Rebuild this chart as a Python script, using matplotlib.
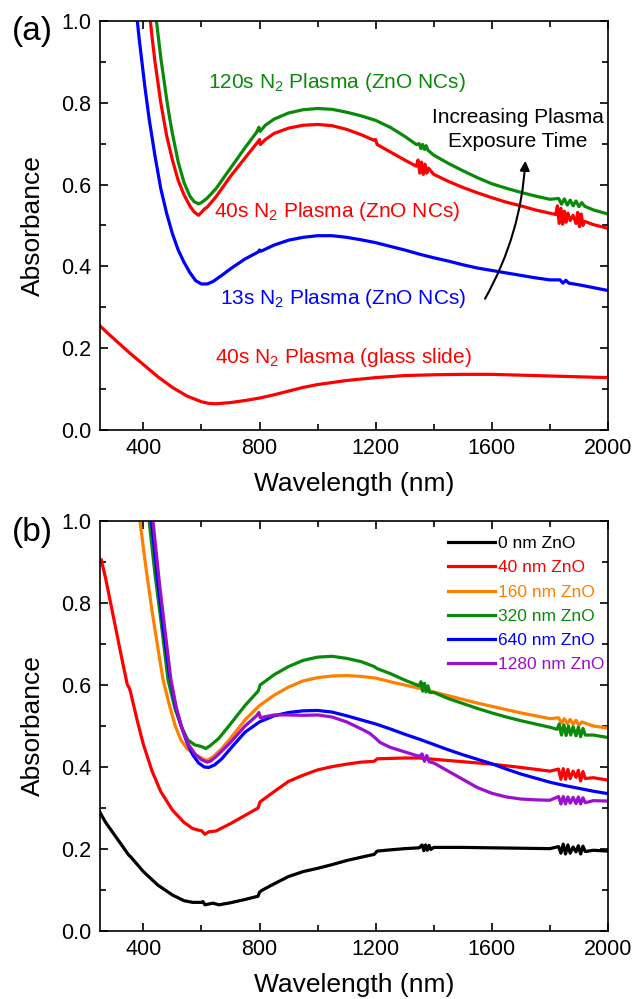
#!/usr/bin/env python3
"""Absorbance spectra of N2 plasma treated ZnO NC films, two panels."""

import matplotlib
matplotlib.use("Agg")
import matplotlib.pyplot as plt
from matplotlib.ticker import MultipleLocator

plt.rcParams["font.family"] = ["Liberation Sans", "DejaVu Sans"]
plt.rcParams["mathtext.fontset"] = "custom"
plt.rcParams["mathtext.rm"] = "Liberation Sans"
plt.rcParams["mathtext.it"] = "Liberation Sans:italic"

# ---- panel (a): plasma exposure time ----
a120_wl = [440, 450, 460, 470, 480, 490, 500, 520, 540, 560, 575, 590, 600, 620, 650,
           700, 750, 790, 798, 802, 820, 850, 900, 950, 1000, 1050, 1100, 1150, 1200,
           1250, 1300, 1340, 1350, 1356, 1362, 1368, 1374, 1380, 1400, 1450, 1500, 1550,
           1600, 1650, 1700, 1750, 1800, 1830, 1840, 1850, 1860, 1870, 1880, 1890, 1900,
           1910, 1920, 1950, 2000]
a120_abs = [1.03, 0.97, 0.91, 0.86, 0.81, 0.765, 0.725, 0.655, 0.605, 0.572, 0.558, 0.553,
            0.556, 0.567, 0.59, 0.64, 0.69, 0.728, 0.74, 0.73, 0.745, 0.76, 0.775, 0.783,
            0.786, 0.784, 0.777, 0.768, 0.757, 0.74, 0.718, 0.698, 0.7, 0.688, 0.698,
            0.686, 0.695, 0.684, 0.672, 0.652, 0.634, 0.617, 0.602, 0.591, 0.581, 0.572,
            0.564, 0.566, 0.552, 0.565, 0.55, 0.562, 0.548, 0.56, 0.546, 0.556, 0.547,
            0.538, 0.528]

a40_wl = [420, 430, 440, 450, 460, 470, 480, 500, 520, 540, 560, 575, 590, 600, 610, 620,
          650, 700, 750, 795, 800, 803, 820, 850, 900, 950, 1000, 1050, 1100, 1150, 1195,
          1200, 1205, 1250, 1300, 1340, 1346, 1352, 1358, 1364, 1370, 1376, 1382, 1400,
          1450, 1500, 1550, 1600, 1650, 1700, 1750, 1800, 1820, 1826, 1832, 1838, 1844,
          1850, 1856, 1862, 1870, 1880, 1890, 1896, 1902, 1908, 1914, 1920, 1950, 2000]
a40_abs = [1.03, 0.96, 0.9, 0.85, 0.8, 0.76, 0.72, 0.66, 0.61, 0.575, 0.548, 0.533, 0.525,
           0.532, 0.54, 0.545, 0.57, 0.62, 0.665, 0.705, 0.71, 0.698, 0.71, 0.725, 0.738,
           0.745, 0.747, 0.744, 0.735, 0.722, 0.708, 0.71, 0.698, 0.68, 0.66, 0.645,
           0.66, 0.628, 0.655, 0.625, 0.65, 0.628, 0.64, 0.625, 0.608, 0.593, 0.58, 0.568,
           0.557, 0.548, 0.538, 0.53, 0.527, 0.548, 0.505, 0.542, 0.503, 0.535, 0.508,
           0.53, 0.512, 0.525, 0.505, 0.532, 0.497, 0.528, 0.5, 0.51, 0.502, 0.493]

a13_wl = [375, 385, 395, 405, 420, 440, 460, 480, 500, 520, 540, 560, 580, 600, 620, 640,
          670, 700, 750, 795, 800, 805, 850, 900, 950, 1000, 1050, 1100, 1150, 1200, 1250,
          1300, 1350, 1400, 1450, 1500, 1550, 1600, 1650, 1700, 1750, 1800, 1835, 1845,
          1855, 1865, 1900, 1950, 2000]
a13_abs = [1.03, 0.96, 0.9, 0.84, 0.76, 0.67, 0.59, 0.53, 0.48, 0.44, 0.41, 0.385, 0.365,
           0.357, 0.357, 0.363, 0.378, 0.394, 0.418, 0.435, 0.44, 0.437, 0.452, 0.464,
           0.471, 0.475, 0.475, 0.471, 0.465, 0.458, 0.449, 0.44, 0.43, 0.421, 0.413,
           0.404, 0.396, 0.39, 0.384, 0.378, 0.372, 0.367, 0.367, 0.359, 0.366, 0.359,
           0.355, 0.348, 0.341]

aglass_wl = [250, 275, 300, 350, 400, 450, 500, 550, 600, 625, 650, 700, 750, 800, 850,
             900, 950, 1000, 1100, 1200, 1300, 1400, 1500, 1600, 1700, 1800, 1900, 2000]
aglass_abs = [0.255, 0.238, 0.222, 0.19, 0.16, 0.13, 0.104, 0.083, 0.069, 0.065, 0.064,
              0.067, 0.072, 0.078, 0.086, 0.095, 0.104, 0.111, 0.121, 0.128, 0.133,
              0.135, 0.136, 0.136, 0.134, 0.132, 0.13, 0.128]

# ---- panel (b): ZnO thickness ----
b0_wl = [250, 270, 300, 330, 345, 350, 355, 360, 400, 450, 500, 540, 570, 600, 605, 612,
         625, 640, 660, 700, 750, 795, 800, 810, 850, 900, 950, 1000, 1050, 1100, 1150,
         1195, 1205, 1250, 1300, 1350, 1360, 1366, 1372, 1378, 1384, 1390, 1400, 1500,
         1600, 1700, 1800, 1830, 1838, 1846, 1854, 1862, 1870, 1880, 1890, 1898, 1906,
         1914, 1922, 1950, 2000]
b0_abs = [0.29, 0.265, 0.235, 0.205, 0.19, 0.185, 0.182, 0.178, 0.145, 0.112, 0.088,
          0.074, 0.07, 0.07, 0.072, 0.064, 0.066, 0.068, 0.064, 0.069, 0.077, 0.085, 0.095,
          0.1, 0.115, 0.133, 0.145, 0.153, 0.162, 0.172, 0.18, 0.187, 0.195, 0.198, 0.201,
          0.203, 0.21, 0.196, 0.21, 0.197, 0.209, 0.199, 0.204, 0.204, 0.203, 0.202,
          0.201, 0.206, 0.19, 0.212, 0.188, 0.21, 0.19, 0.205, 0.193, 0.208, 0.188, 0.207,
          0.194, 0.197, 0.195]

b40_wl = [255, 270, 290, 310, 330, 345, 350, 355, 360, 380, 400, 430, 460, 500, 540, 570,
          590, 600, 612, 625, 650, 700, 750, 795, 802, 850, 900, 950, 1000, 1050, 1100,
          1150, 1195, 1205, 1250, 1300, 1350, 1400, 1500, 1600, 1700, 1800, 1830, 1838,
          1846, 1854, 1862, 1870, 1880, 1890, 1898, 1906, 1914, 1922, 1950, 2000]
b40_abs = [0.905, 0.86, 0.79, 0.72, 0.65, 0.6, 0.595, 0.585, 0.57, 0.51, 0.455, 0.39,
           0.34, 0.295, 0.265, 0.25, 0.246, 0.245, 0.236, 0.242, 0.244, 0.262, 0.282, 0.3,
           0.315, 0.34, 0.365, 0.38, 0.393, 0.401, 0.407, 0.412, 0.414, 0.42, 0.421, 0.422,
           0.422, 0.419, 0.413, 0.407, 0.399, 0.39, 0.395, 0.37, 0.396, 0.37, 0.394, 0.372,
           0.39, 0.375, 0.392, 0.366, 0.389, 0.372, 0.374, 0.368]

b160_wl = [388, 410, 430, 450, 468, 490, 510, 530, 550, 570, 590, 610, 622, 640, 670, 700,
           750, 800, 850, 900, 950, 1000, 1050, 1100, 1150, 1200, 1250, 1300, 1350, 1400,
           1450, 1500, 1550, 1600, 1650, 1700, 1750, 1800, 1830, 1840, 1850, 1860, 1870,
           1880, 1890, 1900, 1910, 1950, 2000]
b160_abs = [1.0, 0.88, 0.78, 0.69, 0.612, 0.55, 0.5, 0.465, 0.445, 0.434, 0.426, 0.418,
            0.417, 0.425, 0.445, 0.47, 0.515, 0.55, 0.575, 0.595, 0.61, 0.618, 0.622, 0.623,
            0.621, 0.617, 0.608, 0.6, 0.592, 0.583, 0.574, 0.565, 0.556, 0.548, 0.54,
            0.532, 0.525, 0.518, 0.52, 0.508, 0.518, 0.506, 0.516, 0.504, 0.514, 0.502,
            0.51, 0.5, 0.495]

b320_wl = [420, 440, 460, 485, 510, 530, 553, 577, 600, 615, 630, 660, 700, 750, 795, 798,
           802, 825, 850, 900, 950, 1000, 1050, 1100, 1150, 1195, 1205, 1250, 1300, 1350,
           1356, 1362, 1368, 1374, 1380, 1386, 1400, 1450, 1500, 1550, 1600, 1650, 1700,
           1750, 1800, 1825, 1832, 1840, 1848, 1856, 1864, 1872, 1880, 1890, 1898, 1906,
           1914, 1922, 1950, 2000]
b320_abs = [1.0, 0.87, 0.76, 0.612, 0.54, 0.5, 0.466, 0.454, 0.45, 0.445, 0.452, 0.47,
            0.505, 0.55, 0.585, 0.59, 0.6, 0.612, 0.625, 0.645, 0.66, 0.668, 0.67, 0.665,
            0.657, 0.645, 0.64, 0.628, 0.612, 0.598, 0.608, 0.585, 0.604, 0.583, 0.598,
            0.582, 0.582, 0.567, 0.555, 0.543, 0.532, 0.522, 0.513, 0.505, 0.497, 0.492,
            0.505, 0.478, 0.503, 0.477, 0.5, 0.478, 0.498, 0.476, 0.497, 0.474, 0.494,
            0.478, 0.478, 0.472]

b640_wl = [428, 450, 470, 490, 510, 530, 550, 570, 590, 610, 625, 645, 670, 700, 750, 800,
           850, 900, 950, 1000, 1050, 1100, 1150, 1200, 1250, 1300, 1350, 1400, 1450, 1500,
           1550, 1600, 1650, 1700, 1750, 1800, 1850, 1900, 1950, 2000]
b640_abs = [1.0, 0.85, 0.73, 0.625, 0.55, 0.5, 0.46, 0.43, 0.41, 0.4, 0.399, 0.405, 0.42,
            0.445, 0.485, 0.51, 0.525, 0.533, 0.537, 0.538, 0.534, 0.525, 0.515, 0.505,
            0.493, 0.48, 0.468, 0.455, 0.442, 0.43, 0.419, 0.408, 0.395, 0.383, 0.373,
            0.363, 0.355, 0.348, 0.341, 0.335]

b1280_wl = [433, 455, 475, 495, 515, 535, 555, 580, 600, 618, 630, 650, 700, 750, 790, 798,
            803, 815, 850, 900, 950, 1000, 1050, 1100, 1150, 1180, 1200, 1215, 1250, 1300,
            1350, 1360, 1368, 1376, 1384, 1400, 1450, 1500, 1550, 1600, 1650, 1700, 1750,
            1800, 1830, 1838, 1846, 1854, 1862, 1870, 1880, 1890, 1898, 1906, 1914, 1922,
            1950, 2000]
b1280_abs = [1.0, 0.85, 0.73, 0.612, 0.54, 0.49, 0.455, 0.43, 0.418, 0.412, 0.414, 0.425,
             0.46, 0.5, 0.525, 0.533, 0.52, 0.522, 0.527, 0.527, 0.526, 0.527, 0.522, 0.51,
             0.493, 0.482, 0.47, 0.46, 0.448, 0.437, 0.426, 0.432, 0.414, 0.428, 0.413,
             0.41, 0.39, 0.37, 0.35, 0.336, 0.327, 0.322, 0.32, 0.319, 0.328, 0.31, 0.328,
             0.31, 0.327, 0.312, 0.326, 0.311, 0.327, 0.31, 0.325, 0.313, 0.318, 0.317]

legend_labels = ["0 nm ZnO", "40 nm ZnO", "160 nm ZnO", "320 nm ZnO", "640 nm ZnO",
                 "1280 nm ZnO"]

RED = "#ff0000"
GREEN = "#0a8a0a"
BLUE = "#0000ff"
ORANGE = "#ff8000"
PURPLE = "#9b0fcf"


def style_axes(ax):
    ax.set_xlim(250, 2000)
    ax.set_ylim(0, 1.0)
    ax.xaxis.set_major_locator(MultipleLocator(400))
    ax.xaxis.set_minor_locator(MultipleLocator(200))
    ax.yaxis.set_major_locator(MultipleLocator(0.2))
    ax.yaxis.set_minor_locator(MultipleLocator(0.1))
    ax.tick_params(which="both", direction="in", top=True, right=True, width=1.2,
                   labelsize=15.5, pad=6)
    ax.tick_params(which="major", length=6)
    ax.tick_params(which="minor", length=4)
    ax.set_xticks([400, 800, 1200, 1600, 2000])
    ax.set_yticks([0.0, 0.2, 0.4, 0.6, 0.8, 1.0])
    ax.yaxis.set_major_formatter(lambda v, p: f"{v:.1f}")
    for s in ax.spines.values():
        s.set_linewidth(1.2)
    ax.set_xlabel("Wavelength (nm)", fontsize=19, labelpad=9)
    ax.set_ylabel("Absorbance", fontsize=19, labelpad=12)


fig = plt.figure(figsize=(6.44, 9.99), dpi=100)
ax1 = fig.add_axes([0.155, 0.5696, 0.789, 0.4094])
ax2 = fig.add_axes([0.155, 0.068, 0.789, 0.4105])

lw = 2.3
ax1.plot(aglass_wl, aglass_abs, color=RED, lw=lw)
ax1.plot(a13_wl, a13_abs, color=BLUE, lw=lw)
ax1.plot(a40_wl, a40_abs, color=RED, lw=lw)
ax1.plot(a120_wl, a120_abs, color=GREEN, lw=lw)
style_axes(ax1)

ax1.text(1066, 0.85, "120s N$_2$ Plasma (ZnO NCs)", color=GREEN, fontsize=15,
         ha="center", va="center")
ax1.text(1066, 0.535, "40s N$_2$ Plasma (ZnO NCs)", color=RED, fontsize=15,
         ha="center", va="center")
ax1.text(1087, 0.322, "13s N$_2$ Plasma (ZnO NCs)", color=BLUE, fontsize=15,
         ha="center", va="center")
ax1.text(1090, 0.178, "40s N$_2$ Plasma (glass slide)", color=RED, fontsize=15,
         ha="center", va="center")
ax1.text(1690, 0.735, "Increasing Plasma\nExposure Time", fontsize=15, ha="center",
         va="center", linespacing=1.35)
ax1.annotate("", xy=(1716, 0.665), xytext=(1572, 0.315),
             arrowprops=dict(arrowstyle="-|>", color="black", lw=1.5,
                             mutation_scale=14,
                             connectionstyle="arc3,rad=0.12"))

b_series = [(b0_wl, b0_abs, "black"), (b40_wl, b40_abs, RED),
            (b160_wl, b160_abs, ORANGE), (b320_wl, b320_abs, GREEN),
            (b640_wl, b640_abs, BLUE), (b1280_wl, b1280_abs, PURPLE)]
for (wl, ab, c), lab in zip(b_series, legend_labels):
    ax2.plot(wl, ab, color=c, lw=lw, label=lab)
style_axes(ax2)
leg = ax2.legend(loc="upper left", bbox_to_anchor=(0.672, 0.98), frameon=False,
                 fontsize=12.5, handlelength=2.7, handletextpad=0.15,
                 labelspacing=0.52, labelcolor="linecolor", borderaxespad=0)

fig.text(0.018, 0.968, "(a)", fontsize=24, va="center")
fig.text(0.018, 0.467, "(b)", fontsize=24, va="center")

fig.savefig("out.png", dpi=100)
